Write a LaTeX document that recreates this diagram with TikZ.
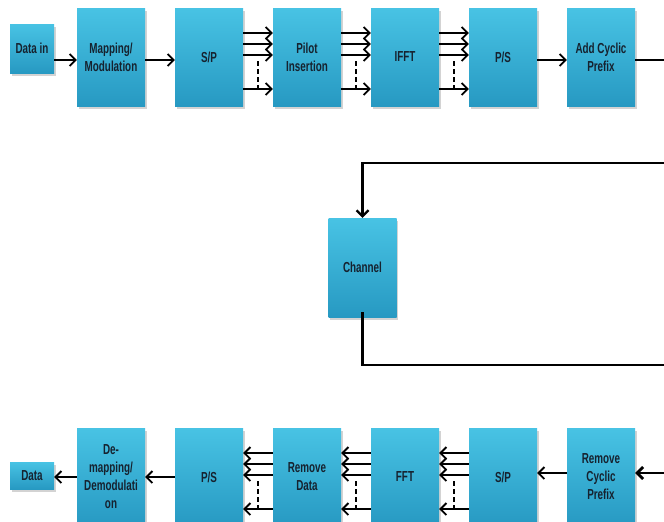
\documentclass[tikz,border=0pt]{standalone}
\usepackage{fontspec}
\newfontfamily\boxfont{Liberation Sans}[FakeStretch=0.68]
\usetikzlibrary{arrows.meta,shadows,calc}
\definecolor{boxtop}{HTML}{48C3E4}
\definecolor{boxbot}{HTML}{2799C2}
\definecolor{txt}{HTML}{16222F}
\begin{document}
\begin{tikzpicture}[x=1pt,y=-1pt,
  blk/.style={minimum width=68pt,minimum height=98pt,inner sep=1pt,
    top color=boxtop,bottom color=boxbot,draw=none,
    drop shadow={shadow xshift=1.5pt,shadow yshift=-2.5pt,opacity=0.35},
    font=\boxfont\bfseries\fontsize{14.5}{18}\selectfont,text=txt,align=center},
  small/.style={blk,minimum width=44pt},
  ar/.style={line width=1.8pt,-{Straight Barb[length=6pt,width=12pt]}},
  ln/.style={line width=2.2pt},
  dsh/.style={line width=1.3pt,dash pattern=on 5pt off 3pt}]
\useasboundingbox (0,0) rectangle (664,522);
\clip (0,0) rectangle (664,522);
% top row
\node[small,minimum height=49pt] (din) at (32,48.5) {Data in};
\node[blk] (map) at (111,57) {Mapping/\\Modulation};
\node[blk] (sp) at (209,57) {S/P};
\node[blk] (pil) at (307,57) {Pilot\\Insertion};
\node[blk] (ifft) at (405,57) {IFFT};
\node[blk] (ps) at (503,57) {P/S};
\node[blk] (acp) at (601,57) {Add Cyclic\\Prefix};
% channel
\node[blk,minimum height=99pt] (ch) at (362.5,267.5) {Channel};
% bottom row
\node[small,minimum height=27pt] (dat) at (32,475.5) {Data};
\node[blk] (dem) at (111,477) {De-\\mapping/\\Demodulati\\on};
\node[blk] (psb) at (209,477) {P/S};
\node[blk] (rd) at (307,477) {Remove\\Data};
\node[blk] (fft) at (405,477) {FFT};
\node[blk] (spb) at (503,477) {S/P};
\node[blk] (rcp) at (601,477) {Remove\\Cyclic\\Prefix};
% coordinates at right edge
\coordinate (r1) at (666,60);
\coordinate (c1) at (666,163);
\coordinate (c2) at (666,365);
\coordinate (r2) at (666,473);
% top single arrows
\draw[ar] (din.east |- 0,60) -- (map.west |- 0,60);
\draw[ar] (map.east |- 0,60) -- (sp.west |- 0,60);
\draw[ar] (ps.east |- 0,60) -- (acp.west |- 0,60);
\draw[ln,line width=2.8pt] (acp.east |- r1) -- (r1);
% top multi arrows
\foreach \a/\b in {sp/pil,pil/ifft,ifft/ps}{
  \foreach \d in {-24,-13,-2,32}
    \draw[ar] ($(\a.east)+(0,\d)$) -- ($(\b.west)+(0,\d)$);
  \draw[dsh] ($(\a.east)!0.5!(\b.west)+(0,4)$) -- ($(\a.east)!0.5!(\b.west)+(0,32)$);
}
% channel loop
\draw[ar,line width=2.2pt] (c1) -- (ch.north |- c1) -- (ch.north);
\draw[ln] ($(ch.south)+(0,-5)$) -- (ch.south |- c2) -- (c2);
% bottom single arrows
\draw[ar,line width=2.8pt] (r2) -- (rcp.east |- r2);
\draw[ar] (rcp.west |- r2) -- (spb.east |- r2);
\draw[ar] (psb.west) -- (dem.east);
\draw[ar] (dem.west) -- (dat.east |- dem.west);
% bottom multi arrows
\foreach \a/\b in {spb/fft,fft/rd,rd/psb}{
  \foreach \d in {-24,-13,-2,32}
    \draw[ar] ($(\a.west)+(0,\d)$) -- ($(\b.east)+(0,\d)$);
  \draw[dsh] ($(\a.west)!0.5!(\b.east)+(0,4)$) -- ($(\a.west)!0.5!(\b.east)+(0,32)$);
}
\end{tikzpicture}
\end{document}
